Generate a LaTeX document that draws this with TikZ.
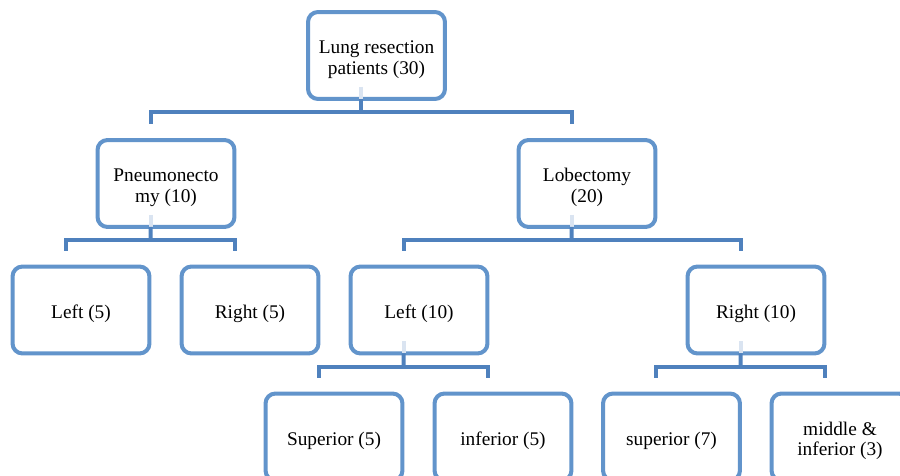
\documentclass[tikz,border=0pt]{standalone}
\usepackage{fontspec}
\setmainfont{Liberation Serif}
\usepackage{tikz}
\usetikzlibrary{positioning,calc}

\definecolor{boxblue}{RGB}{98,148,203}
\definecolor{linkblue}{RGB}{79,129,189}
\definecolor{stubblue}{RGB}{218,228,241}
\newcommand{\topstrut}{\rule{0pt}{12pt}}

\begin{document}
\begin{tikzpicture}[
    x=0.02cm, y=-0.02cm,
    box/.style={draw=boxblue, line width=0.08cm, rounded corners=0.2cm, fill=white, minimum width=2.74cm, minimum height=1.74cm, align=center, font=\fontsize{11}{11.5}\selectfont},
    link/.style={draw=linkblue, line width=0.08cm},
    stub/.style={draw=stubblue, line width=0.08cm}
]
\useasboundingbox (0,0) rectangle (900,476);
\clip (0,0) rectangle (900,476);

% bar points
\coordinate (rootbar) at (361,112);
\coordinate (pneubar) at (150.5,240);
\coordinate (lobbar) at (571.5,240);
\coordinate (lleftbar) at (403.5,367);
\coordinate (lrightbar) at (740.5,367);

\node[box] (root) at (376.5,55.5) {\topstrut Lung resection\\patients (30)};
\node[box] (pneu) at (166,183.5) {\topstrut Pneumonecto\\my (10)};
\node[box] (lob) at (587,183.5) {\topstrut Lobectomy\\(20)};
\node[box] (pleft) at (81,310) {\topstrut Left (5)};
\node[box] (pright) at (250,310) {\topstrut Right (5)};
\node[box] (lleft) at (419,310) {\topstrut Left (10)};
\node[box] (lright) at (756,310) {\topstrut Right (10)};
\node[box] (lsup) at (334,437) {\topstrut Superior (5)};
\node[box] (linf) at (503,437) {\topstrut inferior (5)};
\node[box] (rsup) at (671.5,437) {\topstrut superior (7)};
\node[box] (rmid) at (840,437) {\topstrut middle \&\\inferior (3)};

% root
\draw[stub] ($(root.south)+(-15.5,-14)$) -- ($(root.south)+(-15.5,-2)$);
\draw[link] ($(root.south)+(-15.5,-2)$) -- (rootbar);
\draw[link] (rootbar) -| ($(pneu.north)+(-15.5,-14)$);
\draw[link] (rootbar) -| ($(lob.north)+(-15.5,-14)$);
% pneumonectomy
\draw[stub] ($(pneu.south)+(-15.5,-14)$) -- ($(pneu.south)+(-15.5,-2)$);
\draw[link] ($(pneu.south)+(-15.5,-2)$) -- (pneubar);
\draw[link] (pneubar) -| ($(pleft.north)+(-15,-14)$);
\draw[link] (pneubar) -| ($(pright.north)+(-15,-14)$);
% lobectomy
\draw[stub] ($(lob.south)+(-15.5,-14)$) -- ($(lob.south)+(-15.5,-2)$);
\draw[link] ($(lob.south)+(-15.5,-2)$) -- (lobbar);
\draw[link] (lobbar) -| ($(lleft.north)+(-15.5,-14)$);
\draw[link] (lobbar) -| ($(lright.north)+(-15.5,-14)$);
% left lobes
\draw[stub] ($(lleft.south)+(-15.5,-14)$) -- ($(lleft.south)+(-15.5,-2)$);
\draw[link] ($(lleft.south)+(-15.5,-2)$) -- (lleftbar);
\draw[link] (lleftbar) -| ($(lsup.north)+(-15,-14)$);
\draw[link] (lleftbar) -| ($(linf.north)+(-15,-14)$);
% right lobes
\draw[stub] ($(lright.south)+(-15.5,-14)$) -- ($(lright.south)+(-15.5,-2)$);
\draw[link] ($(lright.south)+(-15.5,-2)$) -- (lrightbar);
\draw[link] (lrightbar) -| ($(rsup.north)+(-15.5,-14)$);
\draw[link] (lrightbar) -| ($(rmid.north)+(-15.5,-14)$);
\end{tikzpicture}
\end{document}
